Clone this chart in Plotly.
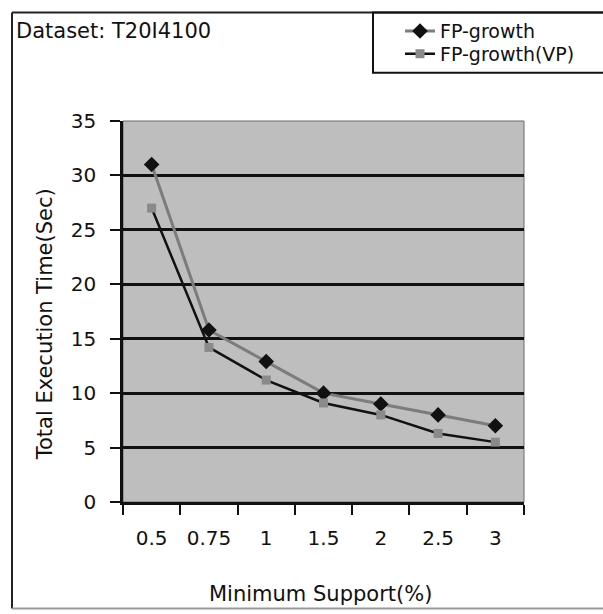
import plotly.graph_objects as go

# Minimum support thresholds (%) and total execution times (sec)
support = ["0.5", "0.75", "1", "1.5", "2", "2.5", "3"]
fp_growth = [31, 15.8, 12.9, 10.0, 9.0, 8.0, 7.0]
fp_growth_vp = [27.0, 14.2, 11.2, 9.1, 8.0, 6.3, 5.5]
y_ticks = [0, 5, 10, 15, 20, 25, 30, 35]

W, H = 603, 614
L, R, T, B = 123, 524, 116, 502
FONT = "DejaVu Sans"


def px(x):
    return (x - L) / (R - L)


def py(y):
    return (B - y) / (B - T)


fig = go.Figure()
fig.add_trace(go.Scatter(
    x=support, y=fp_growth, name="FP-growth", mode="lines+markers",
    line=dict(color="#7c7c7c", width=3),
    marker=dict(symbol="diamond", size=12, color="#111111"),
    legend="legend", showlegend=True,
))
fig.add_trace(go.Scatter(
    x=support, y=fp_growth_vp, name="FP-growth(VP)", mode="lines+markers",
    line=dict(color="#111111", width=2.5),
    marker=dict(symbol="square", size=9, color="#8a8a8a"),
    legend="legend2", showlegend=True,
))

legend_style = dict(
    xanchor="left", yanchor="middle", bgcolor="rgba(0,0,0,0)", borderwidth=0,
    font=dict(family=FONT, size=19, color="#111111"),
)

P = dict(xref="paper", yref="paper")
shapes = [
    # outer frame
    dict(type="line", x0=px(12), x1=px(603), y0=py(6), y1=py(6),
         line=dict(color="#222222", width=2), **P),
    dict(type="line", x0=px(12), x1=px(12), y0=py(6), y1=py(610),
         line=dict(color="#222222", width=2), **P),
    dict(type="line", x0=px(12), x1=px(603), y0=py(610), y1=py(610),
         line=dict(color="#999999", width=2), **P),
    # legend box
    dict(type="rect", x0=px(373), x1=px(612), y0=py(6), y1=py(67),
         line=dict(color="#111111", width=2), **P),
    # plot area border
    dict(type="rect", x0=0, x1=1, y0=0, y1=1, layer="below",
         line=dict(color="#6a6a6a", width=1), **P),
]

annotations = [
    dict(text="Dataset: T20I4100", x=px(14), y=py(25), xanchor="left", yanchor="middle",
         showarrow=False, font=dict(family=FONT, size=21, color="#111111"), **P),
    dict(text="Total Execution Time(Sec)", x=px(45), y=py(322), textangle=-90,
         xanchor="center", yanchor="middle", showarrow=False,
         font=dict(family=FONT, size=21, color="#111111"), **P),
    dict(text="Minimum Support(%)", x=px(320), y=py(595), xanchor="center", yanchor="middle",
         showarrow=False, font=dict(family=FONT, size=21, color="#111111"), **P),
]

fig.update_layout(
    width=W, height=H,
    margin=dict(l=L, r=W - R, t=T, b=H - B, pad=0),
    paper_bgcolor="white", plot_bgcolor="#bebebe",
    font=dict(family=FONT, size=20, color="#111111"),
    showlegend=True,
    legend=dict(x=px(400), y=py(25), **legend_style),
    legend2=dict(x=px(400), y=py(48), **legend_style),
    shapes=shapes, annotations=annotations,
    xaxis=dict(
        type="category", range=[-0.5, 6.5], tickson="boundaries",
        ticks="outside", ticklen=10, tickwidth=2, tickcolor="#111111",
        showline=True, linecolor="#111111", linewidth=2.5, showgrid=False,
        ticklabelstandoff=16, tickfont=dict(family=FONT, size=20, color="#111111"),
    ),
    yaxis=dict(
        range=[0, 35], tickvals=y_ticks, ticks="outside", ticklen=10, tickwidth=2,
        tickcolor="#111111", showline=True, linecolor="#111111", linewidth=2.5,
        showgrid=True, gridcolor="#111111", gridwidth=2.5, zeroline=False,
        ticklabelstandoff=10, tickfont=dict(family=FONT, size=20, color="#111111"),
    ),
)

fig.write_html("out.html")
